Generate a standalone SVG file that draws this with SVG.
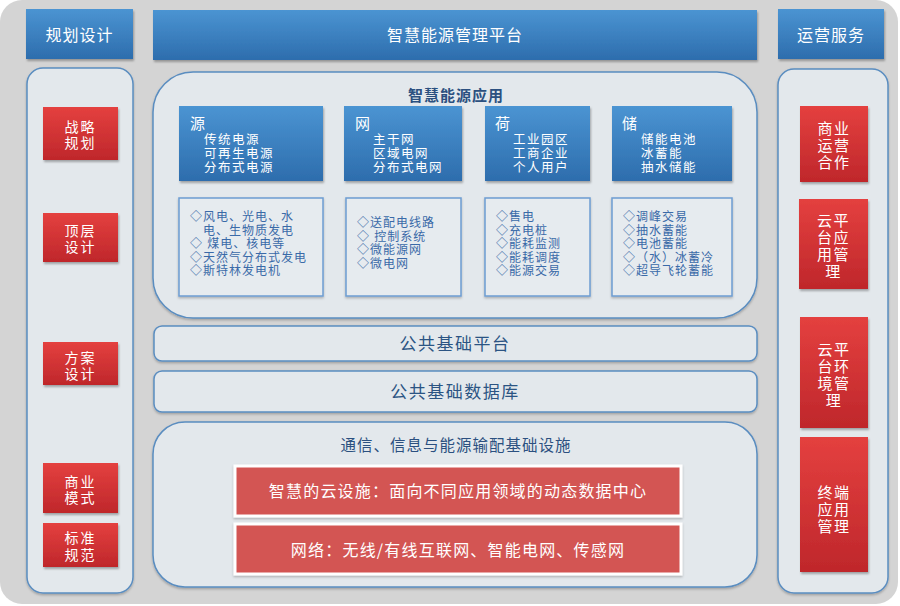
<svg xmlns="http://www.w3.org/2000/svg" width="900" height="606" viewBox="0 0 900 606">
<defs>
<linearGradient id="gBlue" x1="0" y1="0" x2="0" y2="1">
<stop offset="0" stop-color="#4b94d2"/><stop offset="1" stop-color="#2d6dad"/>
</linearGradient>
<linearGradient id="gRed" x1="0" y1="0" x2="0" y2="1">
<stop offset="0" stop-color="#e4403f"/><stop offset="1" stop-color="#bf272b"/>
</linearGradient>
<filter id="sh" x="-10%" y="-10%" width="120%" height="130%">
<feDropShadow dx="1" dy="2" stdDeviation="1.2" flood-color="#000" flood-opacity="0.3"/>
</filter>
<filter id="sh2" x="-10%" y="-10%" width="120%" height="130%">
<feDropShadow dx="0" dy="1.5" stdDeviation="1.2" flood-color="#000" flood-opacity="0.25"/>
</filter>
</defs>
<style>
text{font-family:"Noto Sans CJK SC","Noto Sans",sans-serif}
.tight{font-family:"Liberation Sans","Noto Sans CJK SC",sans-serif}
.hdr{fill:url(#gBlue);filter:url(#sh)}
.hdrT{fill:#fff;font-size:16px;text-anchor:middle;letter-spacing:1px}
.panel{fill:#e3e8ec;stroke:#5a8dc0;stroke-width:1.5;filter:url(#sh2)}
.red{fill:url(#gRed);filter:url(#sh)}
.redT{fill:#fff;font-size:15px;text-anchor:middle;letter-spacing:1.5px}
.redS{fill:#fff;font-size:14px;text-anchor:middle;letter-spacing:2px}
.blue{fill:url(#gBlue);filter:url(#sh)}
.blueT{fill:#fff;font-size:12.5px;letter-spacing:1.5px}
.blueH{fill:#fff;font-size:15px}
.det{fill:#e6ebef;stroke:#6c9dd2;stroke-width:1.5;filter:url(#sh2)}
.detT{fill:#3a6aa8;font-size:12px;letter-spacing:1px}
.title{fill:#2b5080;font-size:15px;text-anchor:middle;font-weight:bold;letter-spacing:1px}
.barT{fill:#2b5483;font-size:17px;text-anchor:middle;letter-spacing:1.5px}
.infraBar{fill:#d35552;stroke:#fff;stroke-width:3;filter:url(#sh2)}
.infraT{fill:#fff;font-size:16px;text-anchor:middle;letter-spacing:1.2px}
</style>
<rect x="0" y="0" width="898" height="604" rx="22" fill="#d4d4d4"/>

<g id="hdr-guihua"><rect class="hdr" x="26" y="9" width="107" height="50"/><text class="hdrT" x="79.5" y="41">规划设计</text></g>
<g id="hdr-platform"><rect class="hdr" x="153" y="10" width="604" height="50"/><text class="hdrT" x="455" y="41">智慧能源管理平台</text></g>
<g id="hdr-yunying"><rect class="hdr" x="778" y="9" width="106" height="50"/><text class="hdrT" x="831" y="41">运营服务</text></g>

<g id="left-panel"><rect class="panel" x="27" y="68" width="106" height="525" rx="16"/></g>
<g id="l-zhanlue"><rect class="red" x="43" y="107" width="75" height="53"/><text class="redS tight" x="80.5" y="132">战略</text><text class="redS tight" x="80.5" y="148">规划</text></g>
<g id="l-dingceng"><rect class="red" x="43" y="213" width="75" height="49"/><text class="redS tight" x="80.5" y="236">顶层</text><text class="redS tight" x="80.5" y="252">设计</text></g>
<g id="l-fangan"><rect class="red" x="43" y="342" width="75" height="43"/><text class="redS tight" x="80.5" y="363">方案</text><text class="redS tight" x="80.5" y="379">设计</text></g>
<g id="l-shangye"><rect class="red" x="43" y="463" width="75" height="50"/><text class="redS tight" x="80.5" y="487">商业</text><text class="redS tight" x="80.5" y="503">模式</text></g>
<g id="l-biaozhun"><rect class="red" x="43" y="523" width="75" height="44"/><text class="redS tight" x="80.5" y="543">标准</text><text class="redS tight" x="80.5" y="560">规范</text></g>

<g id="right-panel"><rect class="panel" x="778" y="69" width="110" height="524" rx="16"/></g>
<g id="r-shangye"><rect class="red" x="800" y="106" width="68" height="76"/><text class="redT tight" x="834" y="134">商业</text><text class="redT tight" x="834" y="151">运营</text><text class="redT tight" x="834" y="168">合作</text></g>
<g id="r-yunyingyong"><rect class="red" x="799" y="199" width="69" height="90"/><text class="redT tight" x="833.5" y="226">云平</text><text class="redT tight" x="833.5" y="243">台应</text><text class="redT tight" x="833.5" y="260">用管</text><text class="redT tight" x="833.5" y="277">理</text></g>
<g id="r-yunhuanjing"><rect class="red" x="800" y="317" width="68" height="111"/><text class="redT tight" x="834" y="355">云平</text><text class="redT tight" x="834" y="372">台环</text><text class="redT tight" x="834" y="389">境管</text><text class="redT tight" x="834" y="406">理</text></g>
<g id="r-zhongduan"><rect class="red" x="800" y="437" width="68" height="135"/><text class="redT tight" x="834" y="498">终端</text><text class="redT tight" x="834" y="515">应用</text><text class="redT tight" x="834" y="532">管理</text></g>

<g id="app-panel"><rect class="panel" x="153" y="72" width="604" height="246" rx="40"/><text class="title" x="456" y="101">智慧能源应用</text></g>

<g id="b-yuan"><rect class="blue" x="179" y="106" width="144" height="75"/>
<text class="blueH tight" x="190" y="129">源</text>
<text class="blueT tight" x="204" y="144">传统电源</text><text class="blueT tight" x="204" y="158">可再生电源</text><text class="blueT tight" x="204" y="172">分布式电源</text></g>
<g id="b-wang"><rect class="blue" x="344" y="106" width="118" height="75"/>
<text class="blueH tight" x="355" y="129">网</text>
<text class="blueT tight" x="373" y="144">主干网</text><text class="blueT tight" x="373" y="158">区域电网</text><text class="blueT tight" x="373" y="172">分布式电网</text></g>
<g id="b-he"><rect class="blue" x="485" y="106" width="105" height="75"/>
<text class="blueH tight" x="495" y="129">荷</text>
<text class="blueT tight" x="513" y="144">工业园区</text><text class="blueT tight" x="513" y="158">工商企业</text><text class="blueT tight" x="513" y="172">个人用户</text></g>
<g id="b-chu"><rect class="blue" x="612" y="106" width="120" height="75"/>
<text class="blueH tight" x="622" y="129">储</text>
<text class="blueT tight" x="641" y="144">储能电池</text><text class="blueT tight" x="641" y="158">冰蓄能</text><text class="blueT tight" x="641" y="172">抽水储能</text></g>

<g id="d-yuan"><rect class="det" x="179" y="198" width="144" height="98"/>
<text class="detT tight" x="190" y="221">◇风电、光电、水</text>
<text class="detT tight" x="203" y="234.5">电、生物质发电</text>
<text class="detT tight" x="190" y="248">◇ 煤电、核电等</text>
<text class="detT tight" x="190" y="261.5">◇天然气分布式发电</text>
<text class="detT tight" x="190" y="275">◇斯特林发电机</text></g>
<g id="d-wang"><rect class="det" x="346" y="198" width="115" height="98"/>
<text class="detT tight" x="357" y="227">◇送配电线路</text>
<text class="detT tight" x="357" y="240.5">◇ 控制系统</text>
<text class="detT tight" x="357" y="254">◇微能源网</text>
<text class="detT tight" x="357" y="267.5">◇微电网</text></g>
<g id="d-he"><rect class="det" x="485" y="198" width="105" height="98"/>
<text class="detT tight" x="496" y="221">◇售电</text>
<text class="detT tight" x="496" y="234.5">◇充电桩</text>
<text class="detT tight" x="496" y="248">◇能耗监测</text>
<text class="detT tight" x="496" y="261.5">◇能耗调度</text>
<text class="detT tight" x="496" y="275">◇能源交易</text></g>
<g id="d-chu"><rect class="det" x="612" y="198" width="120" height="98"/>
<text class="detT tight" x="623" y="221">◇调峰交易</text>
<text class="detT tight" x="623" y="234.5">◇抽水蓄能</text>
<text class="detT tight" x="623" y="248">◇电池蓄能</text>
<text class="detT tight" x="623" y="261.5">◇（水）冰蓄冷</text>
<text class="detT tight" x="623" y="275">◇超导飞轮蓄能</text></g>

<g id="public-platform"><rect class="panel" x="154" y="326" width="603" height="35" rx="8"/><text class="barT" x="455" y="350">公共基础平台</text></g>
<g id="public-db"><rect class="panel" x="154" y="371" width="603" height="41" rx="8"/><text class="barT" x="455" y="398">公共基础数据库</text></g>

<g id="infra-panel"><rect class="panel" x="153" y="422" width="604" height="165" rx="32"/><text class="title" x="456" y="451" style="font-weight:normal;font-size:15.5px">通信、信息与能源输配基础设施</text></g>
<g id="infra-cloud"><rect class="infraBar" x="235" y="466" width="446" height="50"/><text class="infraT" x="458" y="497">智慧的云设施：面向不同应用领域的动态数据中心</text></g>
<g id="infra-net"><rect class="infraBar" x="235" y="524" width="446" height="50"/><text class="infraT" x="458" y="556">网络：无线/有线互联网、智能电网、传感网</text></g>
<g id="connectors"/>
</svg>
